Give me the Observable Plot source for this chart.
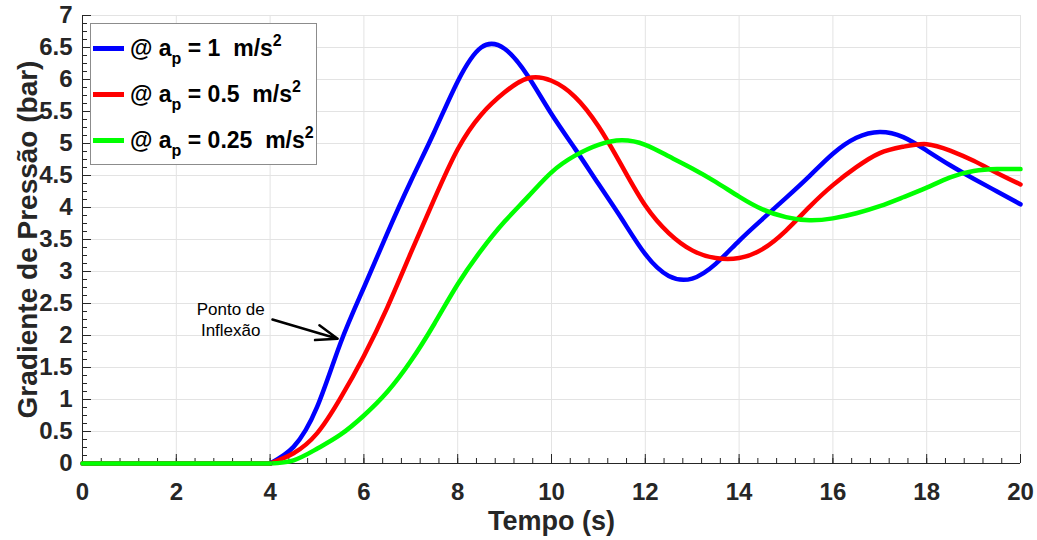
<!DOCTYPE html>
<html><head><meta charset="utf-8">
<script src="https://cdn.jsdelivr.net/npm/d3@7"></script>
<script src="https://cdn.jsdelivr.net/npm/@observablehq/plot@0.6"></script>
<style>
body{margin:0;background:#fff;}
#wrap{position:relative;width:1037px;height:540px;overflow:hidden;}
.legend{position:absolute;left:90px;top:23px;width:227px;height:142px;border:1px solid #8c8c8c;background:#fff;box-sizing:border-box;font-family:"Liberation Sans",Arial,sans-serif;font-weight:bold;font-size:23px;color:#000;}
.entry{position:absolute;left:2px;height:30px;line-height:30px;white-space:pre;}
.swatch{display:inline-block;width:31px;height:5px;margin-right:6px;vertical-align:middle;position:relative;top:-1px;}
.sub{font-size:16px;position:relative;top:8px;}
.sup{font-size:16px;position:relative;top:-10px;}
</style></head>
<body><div id="wrap"></div>
<script>
// ---- data ----
const tBlue = [0,4,4.5,5,5.5,6,6.5,7,7.5,8,8.5,9,9.5,10,10.5,11,11.5,12,12.5,13,13.5,14,14.5,15,15.5,16,16.5,17,17.5,18,18.5,19,19.5,20];
const vBlue = [0,0,0.26,0.88,1.88,2.75,3.60,4.41,5.18,5.97,6.50,6.48,6.05,5.46,4.92,4.37,3.82,3.27,2.93,2.89,3.12,3.48,3.82,4.15,4.49,4.84,5.09,5.18,5.10,4.89,4.66,4.45,4.25,4.05];
const tRed = [0,4,4.5,5,5.5,6,6.5,7,7.5,8,8.5,9,9.5,10,10.5,11,11.5,12,12.5,13,13.5,14,14.5,15,15.5,16,16.5,17,17.5,18,18.5,19,19.5,20];
const vRed = [0,0,0.16,0.47,1.02,1.68,2.44,3.29,4.13,4.91,5.45,5.80,6.02,5.98,5.73,5.27,4.65,4.03,3.60,3.33,3.21,3.21,3.35,3.64,4.01,4.35,4.63,4.85,4.95,4.99,4.89,4.73,4.54,4.36];
const tGreen = [0,4,4.5,5,5.5,6,6.5,7,7.5,8,8.5,9,9.5,10,10.5,11,11.5,12,12.5,13,13.5,14,14.5,15,15.5,16,16.5,17,17.5,18,18.5,19,19.5,20];
const vGreen = [0,0,0.05,0.23,0.45,0.75,1.12,1.60,2.18,2.80,3.33,3.78,4.17,4.55,4.81,4.98,5.05,4.98,4.80,4.61,4.40,4.17,3.97,3.85,3.80,3.83,3.91,4.02,4.16,4.31,4.47,4.57,4.60,4.60];
const seriesNames = ["1", "0.5", "0.25"];
const seriesColors = ["#0000ff", "#ff0000", "#00ff00"];
const xTicks = [0,2,4,6,8,10,12,14,16,18,20];
const yTicks = [0,0.5,1,1.5,2,2.5,3,3.5,4,4.5,5,5.5,6,6.5,7];
const xMinor = d3.range(0, 20.0001, 0.4);
const yMinor = d3.range(0, 7.0001, 0.125);
const annotation = [{t: 3.16, v: 2.26, label: "Ponto de\nInflexão"}];
const arrowData = [{t1: 4.05, v1: 2.25, t2: 5.44, v2: 1.95}];
const rampStart = 4;

const allT = [tBlue, tRed, tGreen], allV = [vBlue, vRed, vGreen];
const rows = allT.flatMap((ts, k) => ts.map((t, i) => ({t, v: allV[k][i], s: seriesNames[k]})));
const flatRows = rows.filter(d => d.t <= rampStart);
const rampRows = rows.filter(d => d.t >= rampStart);

const font = '"Liberation Sans", Arial, sans-serif';
const axisColor = "#262626";
const chart = Plot.plot({
  width: 1037, height: 540,
  marginLeft: 82, marginRight: 17, marginTop: 15, marginBottom: 77,
  x: {domain: [0, 20]},
  y: {domain: [0, 7]},
  color: {domain: seriesNames, range: seriesColors},
  style: {fontFamily: font, background: "#fff"},
  marks: [
    Plot.ruleX(xTicks.slice(1), {stroke: "#e3e3e3", strokeWidth: 1}),
    Plot.ruleY(yTicks.slice(1), {stroke: "#e3e3e3", strokeWidth: 1}),
    Plot.axisX(xMinor, {tickSize: -5, text: null, stroke: axisColor, label: null}),
    Plot.axisX(xTicks, {tickSize: -9, text: null, stroke: axisColor, label: null}),
    Plot.axisX(xTicks, {tickSize: 0, tickPadding: 19, fontSize: 24, fontWeight: "bold", fill: axisColor, label: null}),
    Plot.axisY(yMinor, {tickSize: -5, text: null, stroke: axisColor, label: null}),
    Plot.axisY(yTicks, {tickSize: -9, text: null, stroke: axisColor, label: null}),
    Plot.axisY(yTicks, {tickSize: 0, tickPadding: 10, fontSize: 24, fontWeight: "bold", fill: axisColor, label: null, tickFormat: d => String(d)}),
    Plot.ruleX([0], {stroke: axisColor}),
    Plot.ruleY([0], {stroke: axisColor}),
    Plot.line(rampRows, {x: "t", y: "v", z: "s", stroke: "s", strokeWidth: 4.5, curve: "natural"}),
    Plot.line(flatRows, {x: "t", y: "v", z: "s", stroke: "s", strokeWidth: 4.5}),
    Plot.text(annotation, {x: "t", y: "v", text: "label", fontSize: 17, lineHeight: 1.2, fill: "#000"}),
    Plot.arrow(arrowData, {x1: "t1", y1: "v1", x2: "t2", y2: "v2", stroke: "#000", strokeWidth: 2.5, headLength: 14, headAngle: 40}),
    Plot.text(["Tempo (s)"], {frameAnchor: "bottom", lineAnchor: "middle", dy: 58, fontSize: 27, fontWeight: "bold", fill: axisColor}),
    Plot.text(["Gradiente de Pressão (bar)"], {frameAnchor: "left", textAnchor: "middle", lineAnchor: "middle", dx: -54, rotate: -90, fontSize: 28, fontWeight: "bold", fill: axisColor})
  ]
});
const wrap = document.getElementById("wrap");
wrap.appendChild(chart);

// legend
const legend = document.createElement("div");
legend.className = "legend";
const tops = [9, 55, 101];
seriesNames.forEach((name, i) => {
  const e = document.createElement("div");
  e.className = "entry";
  e.style.top = tops[i] + "px";
  e.innerHTML = `<span class="swatch" style="background:${seriesColors[i]}"></span>@ a<span class="sub">p</span> = ${name}  m/s<span class="sup">2</span>`;
  legend.appendChild(e);
});
wrap.appendChild(legend);
</script>
</body></html>
